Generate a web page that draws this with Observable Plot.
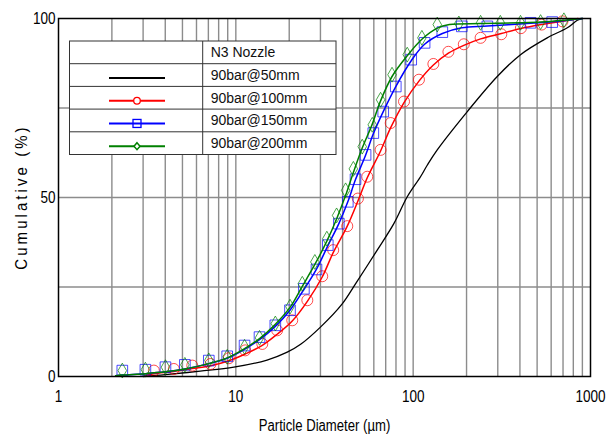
<!DOCTYPE html>
<html><head><meta charset="utf-8">
<script src="https://cdn.jsdelivr.net/npm/d3@7"></script>
<script src="https://cdn.jsdelivr.net/npm/@observablehq/plot@0.6"></script>
<style>
body{margin:0;background:#fff}
#chart{position:relative;width:606px;height:434px}
</style>
</head><body><div id="chart"></div>
<script>
// ---- data (diameter µm, cumulative %) ----
const seriesNames = ["90bar@50mm","90bar@100mm","90bar@150mm","90bar@200mm"];
const legendTitle = "N3 Nozzle";
const xTitle = "Particle Diameter (µm)";
const yTitle = "Cumulative (%)";
const xTicks = [1,10,100,1000];
const yTicks = [0,50,100];
const yGrid = [25,50,75];
const xGrid = [2,3,4,5,6,7,8,9,10,20,30,40,50,60,70,80,90,100,200,300,400,500,600,700,800,900];

const line50 = [[3.0,0],[4.0,0.5],[6.3,1.5],[9.75,2.6],[15,4.6],[19.5,6.8],[23.2,9.0],[30,13.8],[39.8,20.3],[47.3,25.9],[62.7,35.3],[77.8,42.7],[92.6,50.2],[110,55.8],[120,59],[136.7,63.3],[202,74],[298,83.8],[403,89.9],[570,94.6],[740,97.4],[843,99.5],[900,100]];

const line100 = [[3.1,0.3],[3.45,0.8],[4.47,1.4],[5.68,2.2],[7.2,3.0],[9.13,4.4],[11.3,6.3],[14.1,8.7],[17.1,11.8],[20.8,15.5],[25.3,21],[30.7,27.8],[35.4,34.6],[42.5,42],[48.8,49],[55.1,55.5],[65.5,63],[74.7,69.5],[88.8,76.5],[107.8,82.5],[130,87],[158,90.3],[193,92.5],[240,94.3],[314,95.8],[405,97.2],[530,98.3],[695,99.2],[850,100]];
const marks100 = [[3.45,1.65],[4.47,2.1],[5.68,3.05],[7.2,3.5],[9.13,5.1],[11.3,7.3],[14.1,9.1],[17.1,12.9],[20.8,15.7],[25.3,21.3],[30.7,28],[35.4,35.3],[42.5,42],[48.8,49.7],[55.1,55.8],[65.5,63.3],[74.7,70.8],[88.8,76.8],[107.8,82.9],[130,87.3],[158,90.7],[193,92.8],[240,94.6],[314,95.6],[405,97.3],[530,98.3],[695,99.2]];

const line150 = [[2.1,0.2],[2.29,0.4],[3.09,0.8],[4.0,1.3],[5.16,2.1],[7.04,3.6],[8.94,5.1],[11.2,7.6],[13.6,10.3],[16.7,14],[20.2,18.5],[24.2,24.3],[28.5,30],[33,36.5],[38.1,42.7],[42.8,48.8],[47.3,55],[53.9,61.8],[59.6,67.8],[67.8,74],[79.8,81],[97.5,88.2],[116,92.8],[146,95.8],[188,97.4],[262,97.9],[459,98.7],[608,99.1],[800,99.7],[900,100]];
const marks150 = [[2.29,1.65],[3.09,1.9],[4.01,2.6],[5.16,3.25],[7.04,4.45],[8.94,5.65],[11.2,8.65],[13.6,11],[16.7,14.3],[20.2,18.5],[24.2,24.5],[28.5,29.9],[33,36.7],[38.1,42.7],[42.8,48.8],[47.3,55.1],[53.9,61.9],[59.6,68],[67.8,74],[79.8,81],[97.5,88.5],[116,93.2],[146,96.2],[188,97.8],[262,97.8],[459,98.8],[608,99]];

const line200 = [[2.1,0.2],[2.29,0.4],[3.09,0.8],[4.0,1.3],[5.16,2.1],[7.04,3.6],[8.94,5.2],[11.2,7.8],[13.6,10.6],[16.7,14.6],[20.2,19.3],[23.7,25.2],[27.9,31.3],[32.6,37.8],[37,44],[41.6,50.6],[46,57],[51.6,63.8],[58.8,70.5],[65.5,77],[76,83.8],[92.6,89.6],[112,94.2],[136.7,97.3],[160,98.3],[240,98.6],[403,98.8],[523,99],[708,99.5],[900,100]];
const marks200 = [[2.29,1.65],[3.09,1.9],[4.01,2.6],[5.16,3.25],[7.04,4.5],[8.94,5.5],[11.2,8.3],[13.6,10.8],[16.7,14.8],[20.2,19.5],[23.7,25.9],[27.9,32],[32.6,38.5],[37,45],[41.6,52],[46,58],[51.6,64.2],[58.8,70.3],[65.5,77.3],[76,84.3],[92.6,89.9],[112,94.6],[136.7,98.3],[181,98.6],[240,98.8],[310,98.8],[403,98.8],[523,99],[708,99.5]];

const colors = ["#000000","#ff0000","#0000ff","#008000"];

const rows = (arr) => arr.map(([d,v]) => ({d, v}));
const FONT = "'Liberation Sans',Arial,sans-serif";

const chart = Plot.plot({
  width: 606, height: 434,
  marginLeft: 58, marginRight: 16, marginTop: 18, marginBottom: 58,
  style: {fontFamily: FONT, fontSize: "16.5px", background: "white", color: "black"},
  x: {type: "log", domain: [1, 1000]},
  y: {domain: [0, 100]},
  marks: [
    Plot.ruleX(xGrid, {stroke: "#8c8c8c", strokeWidth: 1.4}),
    Plot.ruleY(yGrid, {stroke: "#8c8c8c", strokeWidth: 1.4}),
    Plot.line(rows(line50), {x: "d", y: "v", stroke: colors[0], strokeWidth: 1.3, curve: "catmull-rom"}),
    Plot.line(rows(line100), {x: "d", y: "v", stroke: colors[1], strokeWidth: 1.5, curve: "catmull-rom"}),
    Plot.dot(rows(marks100), {x: "d", y: "v", stroke: colors[1], strokeWidth: 1, strokeOpacity: 0.7, symbol: "circle", r: 5.5}),
    Plot.line(rows(line150), {x: "d", y: "v", stroke: colors[2], strokeWidth: 1.5, curve: "catmull-rom"}),
    Plot.dot(rows(marks150), {x: "d", y: "v", stroke: colors[2], strokeWidth: 1, strokeOpacity: 0.7, symbol: "square", r: 6}),
    Plot.line(rows(line200), {x: "d", y: "v", stroke: colors[3], strokeWidth: 1.5, curve: "catmull-rom"}),
    Plot.dot(rows(marks200), {x: "d", y: "v", stroke: colors[3], strokeWidth: 1, strokeOpacity: 0.7, symbol: "diamond", r: 4.5}),
    Plot.frame({stroke: "black", strokeWidth: 1.5}),
    Plot.axisX({ticks: xTicks, tickSize: 0, tickPadding: 14, tickFormat: d => String(d), label: null, fontSize: 16.5}),
    Plot.axisY({ticks: yTicks, tickSize: 0, tickPadding: 3, label: null, fontSize: 16.5}),
    Plot.text([xTitle], {frameAnchor: "bottom", dy: 49, lineAnchor: "middle", fontSize: 16})
  ]
});
document.getElementById("chart").appendChild(chart);

const svg = d3.select(chart);
// condensed look for axis texts (narrow face not installed): compress glyphs in place
function condense(node, k) {
  const len = node.getComputedTextLength();
  if (len > 0) {
    node.setAttribute("textLength", (len * k).toFixed(2));
    node.setAttribute("lengthAdjust", "spacingAndGlyphs");
  }
}
svg.selectAll("text").each(function () { condense(this, 0.82); });

// y title
const yt = svg.append("text")
  .attr("transform", "translate(27,197) rotate(-90)")
  .attr("text-anchor", "middle")
  .attr("font-family", FONT)
  .attr("font-size", 17)
  .attr("letter-spacing", "3.5px")
  .attr("fill", "black")
  .text(yTitle);
condense(yt.node(), 0.88);

// legend table
const L = {x0: 69.5, y0: 41, w: 266.5, col: 202.7, rh: 22.7};
const lg = svg.append("g").attr("text-anchor", "start");
const nRows = seriesNames.length + 1;
lg.append("rect").attr("x", L.x0).attr("y", L.y0).attr("width", L.w).attr("height", L.rh * nRows)
  .attr("fill", "white").attr("stroke", "#333").attr("stroke-width", 1);
for (let i = 1; i < nRows; i++) {
  lg.append("line").attr("x1", L.x0).attr("x2", L.x0 + L.w)
    .attr("y1", L.y0 + i * L.rh).attr("y2", L.y0 + i * L.rh).attr("stroke", "#333");
}
lg.append("line").attr("x1", L.col).attr("x2", L.col).attr("y1", L.y0).attr("y2", L.y0 + L.rh * nRows).attr("stroke", "#333");
const labels = [legendTitle, ...seriesNames];
labels.forEach((t, i) => {
  lg.append("text").attr("x", L.col + 8).attr("y", L.y0 + (i + 0.5) * L.rh)
    .attr("dy", "0.35em").attr("text-anchor", "start").attr("font-family", FONT)
    .attr("font-size", 14).attr("fill", "#111").text(t);
});
const sym = [null, "circle", "square", "diamond"];
seriesNames.forEach((s, i) => {
  const cy = L.y0 + (i + 1.5) * L.rh + 3;
  lg.append("line").attr("x1", 109).attr("x2", 165).attr("y1", cy).attr("y2", cy)
    .attr("stroke", colors[i]).attr("stroke-width", 2);
  if (sym[i] === "circle") lg.append("circle").attr("cx", 137).attr("cy", cy).attr("r", 3.3).attr("fill", "white").attr("stroke", colors[i]).attr("stroke-width", 1.3);
  if (sym[i] === "square") lg.append("rect").attr("x", 133).attr("y", cy - 4).attr("width", 8).attr("height", 8).attr("fill", "none").attr("stroke", colors[i]).attr("stroke-width", 1.3);
  if (sym[i] === "diamond") lg.append("path").attr("d", `M137,${cy-3.5}L140,${cy}L137,${cy+3.5}L134,${cy}Z`).attr("fill", "white").attr("stroke", colors[i]).attr("stroke-width", 1.5);
});
</script>
</body></html>
